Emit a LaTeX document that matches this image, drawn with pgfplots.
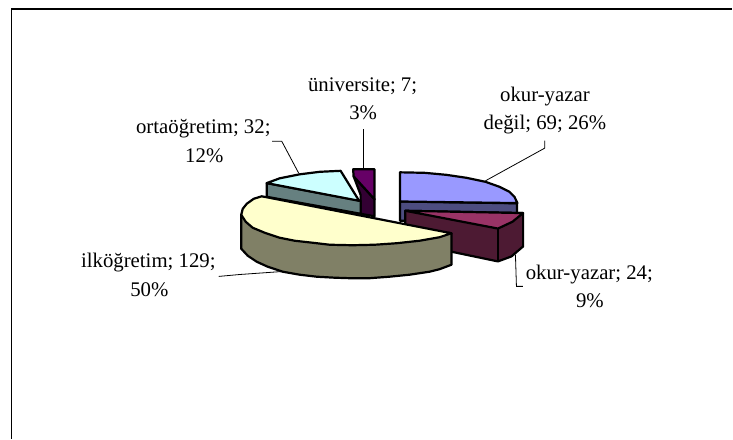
\documentclass[border=0pt]{standalone}
\usepackage{pgfplots}
\pgfplotsset{compat=1.18}
\usepackage{fontspec}
\setmainfont{Liberation Serif}
\definecolor{lavT}{HTML}{9999FF}\definecolor{lavS}{HTML}{4D4D80}
\definecolor{marT}{HTML}{993366}\definecolor{marS}{HTML}{4D1A33}
\definecolor{yelT}{HTML}{FFFFCC}\definecolor{yelS}{HTML}{808066}
\definecolor{cyaT}{HTML}{CCFFFF}\definecolor{cyaS}{HTML}{668080}
\definecolor{purT}{HTML}{660066}\definecolor{purS}{HTML}{330033}
\tikzset{slice/.style={draw=black,line width=2.2pt,line join=round},
  leader/.style={draw=black,line width=0.8pt},
  lab/.style={font=\fontsize{20.8}{23}\selectfont,align=center,inner sep=0pt,anchor=center,text=black}}
\begin{document}
\begin{tikzpicture}
\begin{axis}[hide axis,scale only axis,width=733pt,height=439pt,
  xmin=0,xmax=733,ymin=0,ymax=439,y dir=reverse,clip=false,no marks]
% page extent and frame
\addplot[draw=none,forget plot] coordinates {(0,0)(733,439)};
\addplot[draw=black,line width=1.6pt] coordinates {(11.5,439)(11.5,9)(733,9)};
% lavender
\addplot[slice,fill=lavS] coordinates {(400.5,201.7)(517.5,203.5)(517.5,222)(400.5,221)} -- cycle;
\addplot[slice,fill=lavT] coordinates {(400.5,172.5)(425,173)(446.7,175)(467,178)(486,182)(500,187)(510,192)(515,197)(518,203.3)(400.5,201.7)} -- cycle;
% purple
\addplot[slice,fill=purS] coordinates {(354,176.5)(375,199.5)(375,216.5)(361,214)(361,195)} -- cycle;
\addplot[slice,fill=purT] coordinates {(353.5,169.5)(375,169.5)(375,199.5)(354,176.5)} -- cycle;
% cyan
\addplot[slice,fill=cyaS] coordinates {(267,183.3)(361,201)(361,214)(267,197)} -- cycle;
\addplot[slice,fill=cyaT] coordinates {(267,183.3)(280,178.5)(300,174.5)(320,172)(341,171)(359.5,201)} -- cycle;
% maroon
\addplot[slice,fill=marS] coordinates {(405.7,211)(405.7,244)(452,252)(498.5,261.7)(512,256.7)(523.7,246.7)(523.7,213.3)} -- cycle;
\addplot[slice,fill=marT] coordinates {(405.7,211)(523.7,213.3)(513,222)(498.5,228.8)} -- cycle;
\addplot[slice] coordinates {(498.5,228.8)(498.5,261.7)};
% yellow
\addplot[slice,fill=yelS] coordinates {(452,233.5)(452,265)(440,269.5)(430,272)(410,275)(390,277)(370,278.5)(350,278.5)(335,278)(317,277)(300,275)(283,272)(268,267)(257,262)(248,256)(241.5,249)(241.5,215)} -- cycle;
\addplot[slice,fill=yelT] coordinates {(452,233.5)(440,237.5)(420,241)(397,243.5)(375,245)(353,245.5)(330,245)(313,243)(295,241)(280,238)(265,233)(253,228)(246,222)(241.5,215)(243,209)(247,204)(254,199)(262,196.5)} -- cycle;
% leaders
\addplot[leader] coordinates {(272.4,141.3)(282,141.3)(299,173.3)};
\addplot[leader] coordinates {(363.5,129.3)(363.5,169)};
\addplot[leader] coordinates {(545.3,140.7)(545.3,148.3)(486,181)};
\addplot[leader] coordinates {(516,255)(517,286.7)(523.5,286.7)};
\addplot[leader] coordinates {(219,276.7)(240,274.8)(284,271.7)};
% labels
\node[lab] at (axis cs:363,86) {üniversite; 7;};
\node[lab] at (axis cs:363.5,112.5) {3\%};
\node[lab] at (axis cs:203.5,129) {ortaöğretim; 32;};
\node[lab] at (axis cs:204.5,155.5) {12\%};
\node[lab] at (axis cs:545.5,97) {okur-yazar};
\node[lab] at (axis cs:545.5,125) {değil; 69; 26\%};
\node[lab] at (axis cs:590,275) {okur-yazar; 24;};
\node[lab] at (axis cs:590.5,301) {9\%};
\node[lab] at (axis cs:148.5,263) {ilköğretim; 129;};
\node[lab] at (axis cs:149.5,290) {50\%};
\end{axis}
\end{tikzpicture}
\end{document}
